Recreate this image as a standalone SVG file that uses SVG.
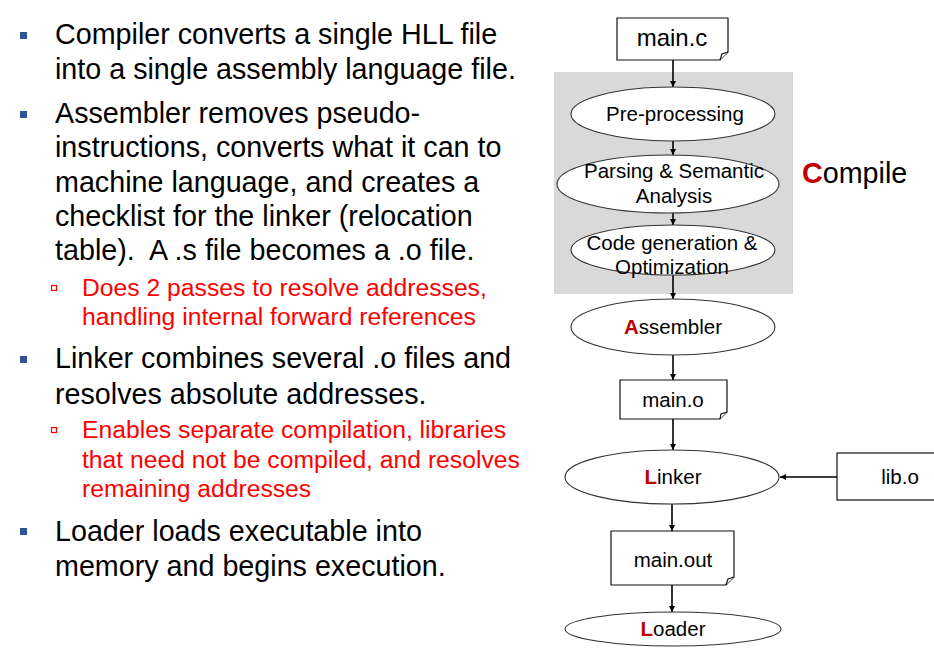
<svg xmlns="http://www.w3.org/2000/svg" width="934" height="649" viewBox="0 0 934 649">
  <style>
    .body { font-family: "Liberation Sans", Arial, sans-serif; font-size: 28.7px; fill: #000; }
    .sub { font-family: "Liberation Sans", Arial, sans-serif; font-size: 24.7px; fill: #ff0000; }
    .lbl { font-family: "Liberation Sans", Arial, sans-serif; font-size: 20.5px; fill: #000; text-anchor: middle; }
    .hi { font-weight: bold; fill: #c00000; }
    .bul { fill: #2f5597; }
    .bul2 { fill: none; stroke: #ff0000; stroke-width: 1.2; }
    .stage { fill: #fff; stroke: #333; stroke-width: 1.1; }
    .doc { fill: #fff; stroke: #111; stroke-width: 1.2; }
    .edge { stroke: #000; stroke-width: 1.6; fill: none; marker-end: url(#arrow); }
  </style>
  <defs>
    <marker id="arrow" markerWidth="7" markerHeight="7" refX="6" refY="3.5" orient="auto" markerUnits="userSpaceOnUse">
      <path d="M0,0.5 L6,3.5 L0,6.5 Z" fill="#000"/>
    </marker>
  </defs>

  <rect width="934" height="649" fill="#fff"/>

  <!-- bullet list -->
  <g id="notes">
    <rect class="bul" x="20" y="32" width="7" height="7"/>
    <text class="body" x="55" y="44">Compiler converts a single HLL file</text>
    <text class="body" x="55" y="79">into a single assembly language file.</text>

    <rect class="bul" x="20" y="111" width="7" height="7"/>
    <text class="body" x="55" y="123">Assembler removes pseudo-</text>
    <text class="body" x="55" y="157">instructions, converts what it can to</text>
    <text class="body" x="55" y="192">machine language, and creates a</text>
    <text class="body" x="55" y="226">checklist for the linker (relocation</text>
    <text class="body" x="55" y="260" xml:space="preserve">table).  A .s file becomes a .o file.</text>

    <rect class="bul2" x="51.5" y="285.5" width="5" height="5"/>
    <text class="sub" x="82" y="296">Does 2 passes to resolve addresses,</text>
    <text class="sub" x="82" y="325">handling internal forward references</text>

    <rect class="bul" x="20" y="356" width="7" height="7"/>
    <text class="body" x="55" y="368">Linker combines several .o files and</text>
    <text class="body" x="55" y="404">resolves absolute addresses.</text>

    <rect class="bul2" x="51.5" y="427.5" width="5" height="5"/>
    <text class="sub" x="82" y="438">Enables separate compilation, libraries</text>
    <text class="sub" x="82" y="468">that need not be compiled, and resolves</text>
    <text class="sub" x="82" y="497">remaining addresses</text>

    <rect class="bul" x="20" y="528" width="7" height="7"/>
    <text class="body" x="55" y="541">Loader loads executable into</text>
    <text class="body" x="55" y="576">memory and begins execution.</text>
  </g>

  <!-- compile stage background -->
  <g id="compile-region">
    <rect x="554" y="72" width="239" height="222" fill="#d9d9d9"/>
    <text class="body" x="802" y="183"><tspan class="hi">C</tspan>ompile</text>
  </g>

  <!-- connectors -->
  <g id="connectors">
    <line class="edge" x1="673" y1="60" x2="673" y2="87"/>
    <line class="edge" x1="673" y1="141" x2="673" y2="155"/>
    <line class="edge" x1="673" y1="213" x2="673" y2="225"/>
    <line class="edge" x1="673" y1="275" x2="673" y2="299"/>
    <line class="edge" x1="673" y1="355" x2="673" y2="380"/>
    <line class="edge" x1="673" y1="419" x2="673" y2="450"/>
    <line class="edge" x1="837" y1="477" x2="780" y2="477"/>
    <line class="edge" x1="672" y1="503" x2="672" y2="531"/>
    <line class="edge" x1="672" y1="585" x2="672" y2="612"/>
  </g>

  <g id="main-c">
    <path class="doc" d="M617,18 H728 V52 L720,60 H617 Z"/>
    <path class="doc" d="M728,52 L722,54 L720,60" stroke-width="1"/>
    <text class="lbl" x="672" y="46" style="font-size:24px">main.c</text>
  </g>

  <g id="pre-processing">
    <ellipse class="stage" cx="673" cy="114" rx="102" ry="27"/>
    <text class="lbl" x="675" y="121">Pre-processing</text>
  </g>

  <g id="parsing">
    <ellipse class="stage" cx="668" cy="184" rx="111" ry="29"/>
    <text class="lbl" x="674" y="178">Parsing &amp; Semantic</text>
    <text class="lbl" x="674" y="203">Analysis</text>
  </g>

  <g id="codegen">
    <ellipse class="stage" cx="673" cy="250" rx="102" ry="25"/>
    <text class="lbl" x="672" y="250">Code generation &amp;</text>
    <text class="lbl" x="672" y="274">Optimization</text>
  </g>

  <g id="assembler">
    <ellipse class="stage" cx="673" cy="327" rx="102" ry="28"/>
    <text class="lbl" x="673" y="334"><tspan class="hi">A</tspan>ssembler</text>
  </g>

  <g id="main-o">
    <path class="doc" d="M620,380 H727 V412 L720,419 H620 Z"/>
    <path class="doc" d="M727,412 L721,414 L720,419" stroke-width="1"/>
    <text class="lbl" x="673" y="407">main.o</text>
  </g>

  <g id="linker">
    <ellipse class="stage" cx="672" cy="477" rx="107" ry="27"/>
    <text class="lbl" x="673" y="484"><tspan class="hi">L</tspan>inker</text>
  </g>

  <g id="lib-o">
    <rect class="doc" x="837" y="453" width="110" height="47"/>
    <text class="lbl" x="900" y="484">lib.o</text>
  </g>

  <g id="main-out">
    <path class="doc" d="M611,531 H734 V577 L726,585 H611 Z"/>
    <path class="doc" d="M734,577 L728,579 L726,585" stroke-width="1"/>
    <text class="lbl" x="673" y="567">main.out</text>
  </g>

  <g id="loader">
    <ellipse class="stage" cx="673" cy="629" rx="108" ry="17"/>
    <text class="lbl" x="673" y="636"><tspan class="hi">L</tspan>oader</text>
  </g>
</svg>
